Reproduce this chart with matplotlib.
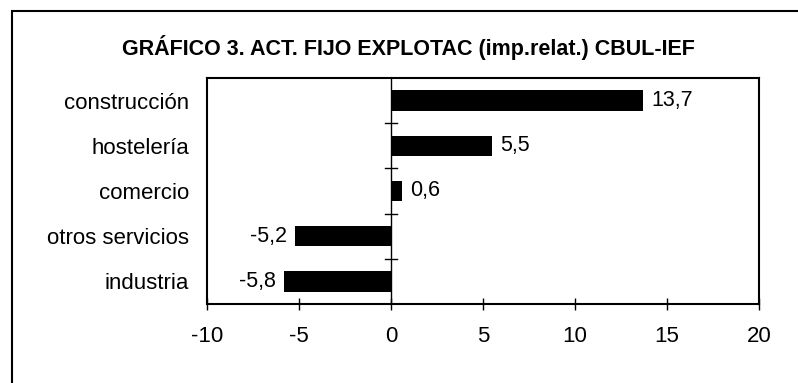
import matplotlib
matplotlib.use("Agg")
import matplotlib.pyplot as plt
from matplotlib.patches import Rectangle

categories = ["construcción", "hostelería", "comercio", "otros servicios", "industria"]
values = [13.7, 5.5, 0.6, -5.2, -5.8]
value_labels = ["13,7", "5,5", "0,6", "-5,2", "-5,8"]
xticks = [-10, -5, 0, 5, 10, 15, 20]
title = "GRÁFICO 3. ACT. FIJO EXPLOTAC (imp.relat.) CBUL-IEF"

plt.rcParams['font.family'] = ['Liberation Sans', 'DejaVu Sans']

fig = plt.figure(figsize=(7.98, 3.83), dpi=100)
W, H = 798, 383
# outer border
fig.patches.append(Rectangle((12 / W, -0.05), 1.2, (H - 11) / H + 0.05, transform=fig.transFigure,
                             fill=False, edgecolor='black', linewidth=1.5))

ax = fig.add_axes([207 / W, 1 - 304 / H, (759 - 207) / W, (304 - 78) / H])
n = len(categories)
ypos = list(range(n - 1, -1, -1))
ax.barh(ypos, values, height=0.45, color='black')
ax.set_xlim(-10, 20)
ax.set_ylim(-0.5, n - 0.5)
ax.set_xticks(xticks)
ax.set_xticklabels([str(t) for t in xticks], fontsize=16)
ax.tick_params(axis='x', direction='inout', length=8, width=1, pad=12)
ax.set_yticks(ypos)
ax.set_yticklabels(categories, fontsize=16)
ax.tick_params(axis='y', length=0, pad=13)
for s in ax.spines.values():
    s.set_linewidth(1.5)

# zero axis with ticks between categories
ax.axvline(0, color='black', linewidth=1)
for b in range(1, n):
    ax.plot([-0.32, 0.32], [b - 0.5, b - 0.5], color='black', linewidth=1)

for y, v, lab in zip(ypos, values, value_labels):
    if v >= 0:
        ax.text(v + 0.45, y, lab, ha='left', va='center', fontsize=15.5)
    else:
        ax.text(v - 0.45, y, lab, ha='right', va='center', fontsize=15.5)

fig.text(408 / W, 1 - 47 / H, title, ha='center', va='center', fontsize=15.5, fontweight='bold')

fig.savefig("out.png", dpi=100)
